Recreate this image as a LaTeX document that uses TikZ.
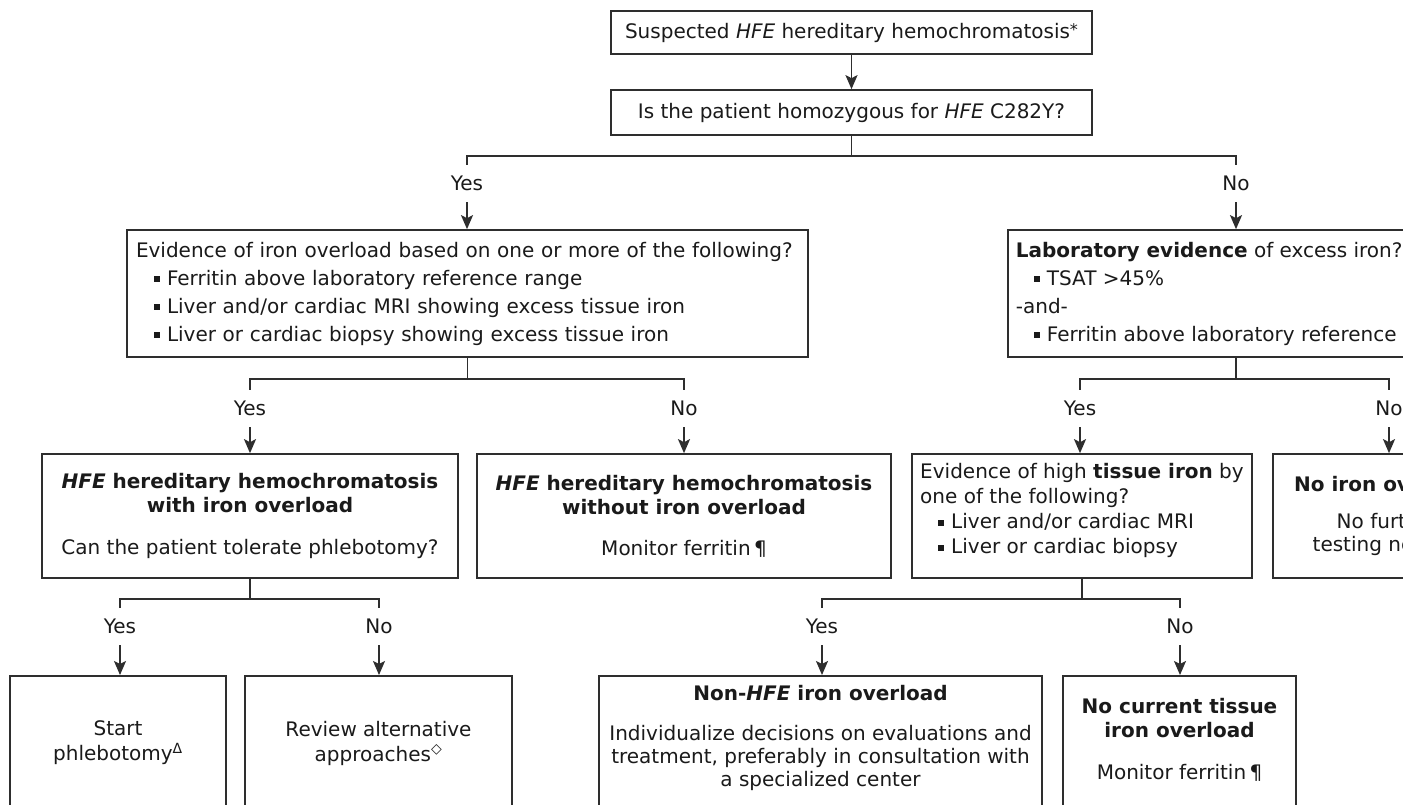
\documentclass[tikz,border=0pt]{standalone}
\usepackage{fontspec}
\setmainfont{DejaVu Sans}
\usetikzlibrary{arrows.meta}
\definecolor{ink}{HTML}{1A1A1A}
\definecolor{rule}{HTML}{2E2E2E}
\newcommand{\sqb}{\hspace*{18pt}\rule[3pt]{6pt}{6pt}\hspace{7pt}}

\begin{document}
\begin{tikzpicture}[
  x=1pt, y=-1pt,
  every node/.style={text=ink, font=\fontsize{20}{24}\selectfont},
  box/.style={draw=rule, line width=1.7pt, fill=white, inner xsep=0pt,
              inner ysep=0pt, align=center},
  ans/.style={inner sep=0pt, minimum height=37pt},
  link/.style={draw=rule, line width=1.6pt},
  arr/.style={link, -{Stealth[length=14pt,width=12pt,inset=3pt]}}
]
\useasboundingbox (0,0) rectangle (1403,804);
\clip (0,0) rectangle (1403,804);
\fill[white] (0,0) rectangle (1403,804);

% top of the tree
\node[box, minimum width=481pt, minimum height=43pt] (susp) at (851.5,32.5)
  {Suspected \textit{HFE} hereditary hemochromatosis\raisebox{3pt}{\fontsize{16}{16}\selectfont*}};
\node[box, minimum width=481pt, minimum height=45pt] (homo) at (851.5,112.5)
  {Is the patient homozygous for \textit{HFE} C282Y?};
\node[ans] (yes1) at (467,183.5) {Yes};
\node[ans] (no1) at (1236,183.5) {No};

% second row
\node[box, align=left, text width=663pt, inner xsep=9pt, minimum height=127pt,
      font=\fontsize{20}{28}\selectfont] (over) at (467.5,293.5)
  {Evidence of iron overload based on one or more of the following?\\
   \sqb Ferritin above laboratory reference range\\
   \sqb Liver and/or cardiac MRI showing excess tissue iron\\
   \sqb Liver or cardiac biopsy showing excess tissue iron};
\node[box, align=left, inner xsep=8pt, minimum height=127pt, anchor=west,
      font=\fontsize{20}{28}\selectfont] (labev) at (1007,293.5)
  {\textbf{Laboratory evidence} of excess iron?\\
   \sqb TSAT >45\%\\
   -and-\\
   \sqb Ferritin above laboratory reference range};
\node[ans] (yes2) at (250,408.5) {Yes};
\node[ans] (no2) at (684,408.5) {No};
\node[ans] (yes3) at (1080,408.5) {Yes};
\node[ans] (no3) at (1389,408.5) {No};

% third row
\node[box, minimum width=416pt, minimum height=124pt] (withov) at (250,516)
  {\textbf{\textit{HFE} hereditary hemochromatosis}\\
   \textbf{with iron overload}\\[18pt]
   Can the patient tolerate phlebotomy?};
\node[box, minimum width=414pt, minimum height=124pt] (withoutov) at (684,516)
  {\textbf{\textit{HFE} hereditary hemochromatosis}\\
   \textbf{without iron overload}\\[17pt]
   Monitor ferritin\,¶};
\node[box, align=left, minimum width=340pt, minimum height=124pt,
      font=\fontsize{20}{25}\selectfont] (tissue) at (1082,516)
  {Evidence of high \textbf{tissue iron} by\\
   one of the following?\\
   \sqb Liver and/or cardiac MRI\\
   \sqb Liver or cardiac biopsy\rule[-14.7pt]{0pt}{1pt}};
\node[box, minimum width=230pt, minimum height=124pt,
      font=\fontsize{20}{23}\selectfont] (noiron) at (1388,516)
  {\textbf{No iron overload}\\[14pt]
   No further\\
   testing needed};
\node[ans] (yes4) at (120,626.5) {Yes};
\node[ans] (no4) at (379,626.5) {No};
\node[ans] (yes5) at (822,626.5) {Yes};
\node[ans] (no5) at (1180,626.5) {No};

% bottom row (runs past the lower edge)
\node[box, anchor=north, minimum width=216pt, inner ysep=45pt,
      font=\fontsize{20}{25}\selectfont] (start) at (118,675)
  {\parbox[t][150pt][t]{216pt}{\centering Start\\
   phlebotomy\textsuperscript{Δ}}};
\node[box, anchor=north, minimum width=267pt, inner ysep=45pt,
      font=\fontsize{20}{25}\selectfont] (review) at (378.5,675)
  {\parbox[t][150pt][t]{267pt}{\centering Review alternative\\
   approaches\textsuperscript{◇}}};
\node[box, anchor=north, minimum width=443pt, inner ysep=9pt,
      font=\fontsize{20}{23}\selectfont] (nonhfe) at (820.5,675)
  {\parbox[t][150pt][t]{443pt}{\centering \textbf{Non-\textit{HFE} iron overload}\\[17pt]
   Individualize decisions on evaluations and\\
   treatment, preferably in consultation with\\
   a specialized center}};
\node[box, anchor=north, minimum width=233pt, inner ysep=22pt,
      font=\fontsize{20}{24}\selectfont] (nocurr) at (1179.5,675)
  {\parbox[t][150pt][t]{233pt}{\centering \textbf{No current tissue}\\
   \textbf{iron overload}\\[18pt]
   Monitor ferritin\,¶}};

% connectors
\draw[arr] (susp) -- (homo);
\draw[link] (homo.south) -- ++(0,20) coordinate (j1) -| (yes1.north);
\draw[link] (j1) -| (no1.north);
\draw[arr] (yes1.south) -- (yes1.south |- over.north);
\draw[arr] (no1.south) -- (no1.south |- labev.north);

\draw[link] (over.south) -- ++(0,21) coordinate (j2) -| (yes2.north);
\draw[link] (j2) -| (no2.north);
\draw[arr] (yes2.south) -- (yes2.south |- withov.north);
\draw[arr] (no2.south) -- (no2.south |- withoutov.north);

\draw[link] (no1.south |- labev.south) -- ++(0,21) coordinate (j3) -| (yes3.north);
\draw[link] (j3) -| (no3.north);
\draw[arr] (yes3.south) -- (yes3.south |- tissue.north);
\draw[arr] (no3.south) -- (no3.south |- noiron.north);

\draw[link] (withov.south) -- ++(0,20) coordinate (j4) -| (yes4.north);
\draw[link] (j4) -| (no4.north);
\draw[arr] (yes4.south) -- (yes4.south |- start.north);
\draw[arr] (no4.south) -- (no4.south |- review.north);

\draw[link] (tissue.south) -- ++(0,20) coordinate (j5) -| (yes5.north);
\draw[link] (j5) -| (no5.north);
\draw[arr] (yes5.south) -- (yes5.south |- nonhfe.north);
\draw[arr] (no5.south) -- (no5.south |- nocurr.north);
\end{tikzpicture}
\end{document}
